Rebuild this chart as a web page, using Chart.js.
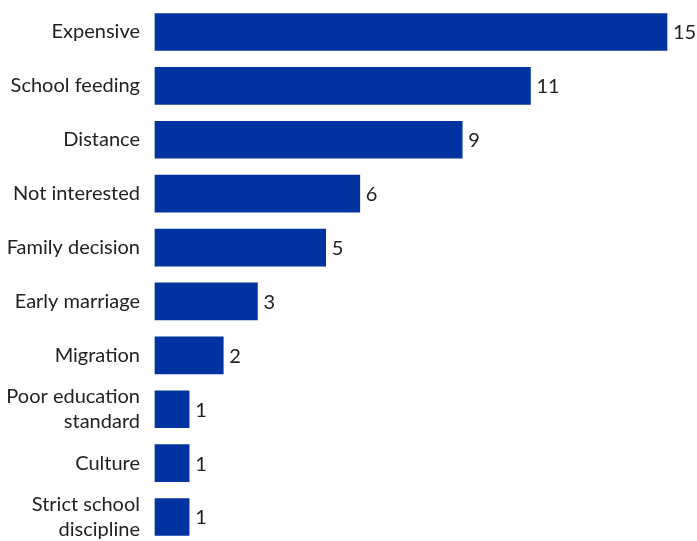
<!DOCTYPE html>
<html>
<head>
<meta charset="utf-8">
<script src="https://cdn.jsdelivr.net/npm/chart.js@4"></script>
<style>
  body { margin: 0; background: #fff; }
  #wrap { width: 697px; height: 541px; position: relative; }
</style>
</head>
<body>
<div id="wrap"><canvas id="barChart"></canvas></div>
<script>
var reasons = [
    "Expensive",
    "School feeding",
    "Distance",
    "Not interested",
    "Family decision",
    "Early marriage",
    "Migration",
    ["Poor education", "standard"],
    "Culture",
    ["Strict school", "discipline"]
];
var counts = [15, 11, 9, 6, 5, 3, 2, 1, 1, 1];

// writes the number just past the end of each bar
var valueLabels = {
    id: "valueLabels",
    afterDatasetsDraw: function(chart) {
        var ctx = chart.ctx;
        var meta = chart.getDatasetMeta(0);
        ctx.save();
        ctx.font = "20px Lato, 'Noto Sans', sans-serif";
        ctx.fillStyle = "#222";
        ctx.textAlign = "left";
        ctx.textBaseline = "middle";
        meta.data.forEach(function(bar, i) {
            ctx.fillText(counts[i], bar.x + 6, bar.y + 1);
        });
        ctx.restore();
    }
};

var ctx = document.getElementById("barChart");
var chart = new Chart(ctx, {
    type: "bar",
    data: {
        labels: reasons,
        datasets: [
            {
                data: counts,
                backgroundColor: "#0033a0",
                borderWidth: 0,
                barThickness: 37,
                clip: false
            }
        ]
    },
    plugins: [valueLabels],
    options: {
        indexAxis: "y",
        responsive: true,
        maintainAspectRatio: false,
        animation: false,
        layout: {
            padding: { top: 31, bottom: 24, right: 30, left: 0 }
        },
        plugins: {
            legend: { display: false },
            tooltip: { enabled: false }
        },
        scales: {
            x: {
                display: false,
                min: 0,
                max: 15
            },
            y: {
                offset: false,
                border: { display: false },
                grid: { display: false },
                afterFit: function(scale) { scale.width = 155; },
                ticks: {
                    padding: 7,
                    color: "#222",
                    font: { family: "Lato, 'Noto Sans', sans-serif", size: 20, lineHeight: 1.25 }
                }
            }
        }
    }
});
</script>
</body>
</html>
